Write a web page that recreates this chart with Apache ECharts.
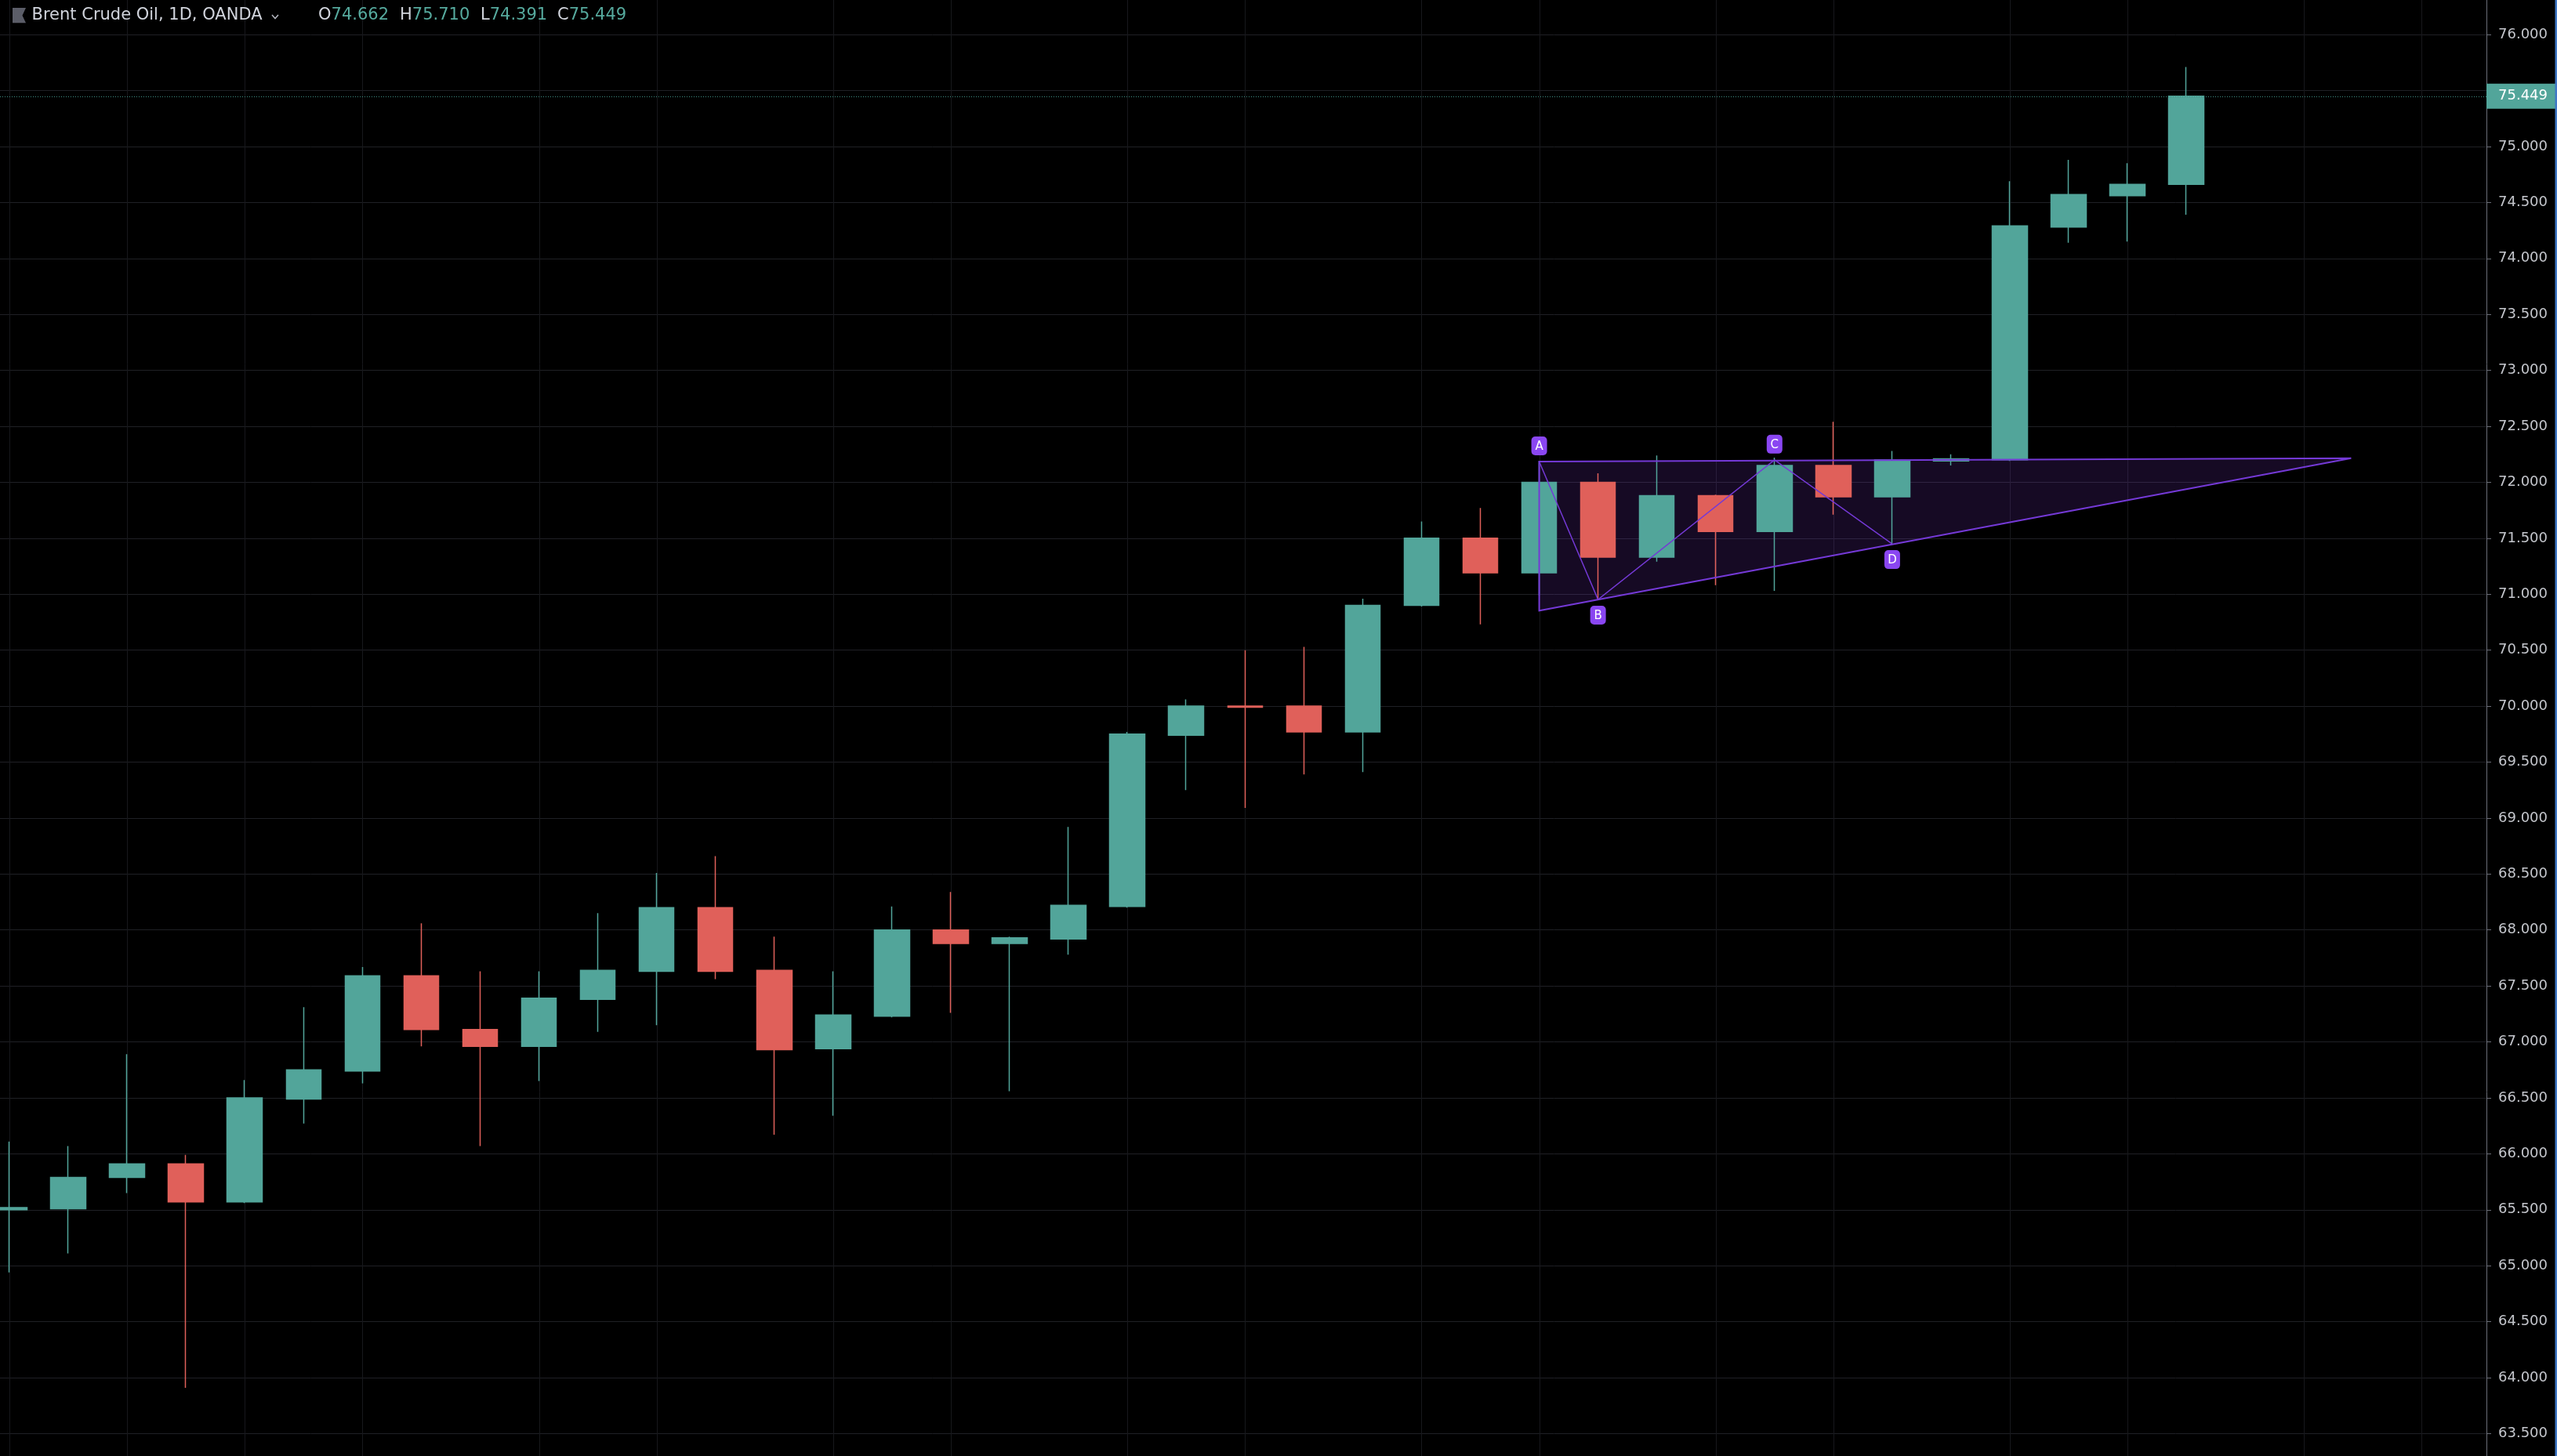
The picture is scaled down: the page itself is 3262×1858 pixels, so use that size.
<!DOCTYPE html>
<html>
<head>
<meta charset="utf-8">
<style>
  html, body { margin: 0; padding: 0; background: #000; overflow: hidden; }
  #chart { width: 3262px; height: 1858px; }
</style>
<script src="https://cdn.jsdelivr.net/npm/echarts@6/dist/echarts.min.js"></script>
</head>
<body>
<div id="chart"></div>
<script>
// ---------- data ----------
const candleIdx = [1,2,3,4,5,6,7,8,9,10,11,12,13,14,15,16,17,18,19,20,21,22,23,24,25,26,27,28,29,30,31,32,33,34,35,36,37,38];
const opens  = [65.50,65.51,65.79,65.91,65.57,66.49,66.74,67.59,67.11,66.96,67.38,67.63,68.20,67.64,66.94,67.23,68.00,67.88,67.92,68.21,69.74,70.00,70.00,69.77,70.90,71.50,71.19,72.00,71.33,71.88,71.56,72.15,71.87,72.19,72.20,74.28,74.56,74.662];
const closes = [65.52,65.79,65.91,65.57,66.50,66.75,67.59,67.11,66.96,67.39,67.64,68.20,67.63,66.93,67.24,68.00,67.88,67.93,68.22,69.75,70.00,69.99,69.77,70.90,71.50,71.19,72.00,71.33,71.88,71.56,72.15,71.87,72.20,72.21,74.29,74.57,74.662,75.449];
const lows   = [64.94,65.11,65.65,63.91,65.56,66.27,66.63,66.96,66.07,66.65,67.09,67.15,67.56,66.17,66.34,67.22,67.26,66.56,67.78,68.20,69.25,69.09,69.39,69.41,70.89,70.73,70.99,70.95,71.29,71.08,71.03,71.71,71.45,72.15,72.19,74.14,74.15,74.391];
const highs  = [66.11,66.07,66.89,65.99,66.66,67.31,67.67,68.06,67.63,67.63,68.15,68.51,68.66,67.94,67.63,68.21,68.34,67.94,68.92,69.77,70.06,70.50,70.53,70.96,71.65,71.77,72.19,72.08,72.24,71.89,72.22,72.54,72.28,72.25,74.69,74.88,74.85,75.710];

// candles that carry a vertical grid line (time-scale marks)
const gridCandles = [1,3,5,7,10,12,15,17,20,22,25,27,30,32,35,37,40,42];

// triangle drawing (x in candle numbers, y in price)
const triX = [27, 40.8, 27];
const triY = [72.185, 72.215, 70.853];
const zigX = [27, 28, 31, 33];
const zigY = [72.185, 70.953, 72.200, 71.449];
const zigLabels = ['A', 'B', 'C', 'D'];
const zigSide = [-1, 1, -1, 1];

// visible price window (bottom / top edge of the picture) and tick step
const yMin = 63.3003, yMax = 76.3088, yTickStep = 0.5;
const xMin = 0.8401, xMax = 43.0997;

const symbolTitle = 'Brent Crude Oil, 1D, OANDA';

// ---------- chart ----------
const UP = '#52a59a', DOWN = '#e0605a';
const chart = echarts.init(document.getElementById('chart'), null, { renderer: 'canvas' });
const last = candleIdx.length - 1;
const candleData = candleIdx.map((x, i) => [x, opens[i], closes[i], lows[i], highs[i]]);

const ohlcParts = [
  { l: 'O', v: opens[last], x: 406 },
  { l: 'H', v: highs[last], x: 510 },
  { l: 'L', v: lows[last], x: 613 },
  { l: 'C', v: closes[last], x: 711 }
];

const graphics = [
  { type: 'polygon', shape: { points: [[16,10],[33,10],[28.5,19.7],[33,29.3],[16,29.3]] }, style: { fill: '#5b5d68' }, z: 100 },
  { type: 'text', x: 40.5, y: 20, style: { text: symbolTitle, font: '21px "DejaVu Sans"', fill: '#d1d4dc', verticalAlign: 'middle', align: 'left' }, z: 100 },
  { type: 'polyline', shape: { points: [[347,19],[351,23.5],[355,19]] }, style: { stroke: '#b2b5be', lineWidth: 1.5, fill: null }, z: 100 },
  { type: 'rect', shape: { x: 3259.5, y: 0, width: 2.5, height: 1858 }, style: { fill: '#3f78c6' }, z: 100 }
];
ohlcParts.forEach(p => {
  graphics.push({
    type: 'text', x: p.x, y: 20, z: 100,
    style: {
      text: '{l|' + p.l + '}{v|' + p.v.toFixed(3) + '}',
      verticalAlign: 'middle', align: 'left',
      font: '21px "DejaVu Sans"', fill: '#d1d4dc',
      rich: {
        l: { font: '21px "DejaVu Sans"', fill: '#d1d4dc' },
        v: { font: '21px "DejaVu Sans"', fill: '#56aa9e' }
      }
    }
  });
});

const isStep = v => Math.abs(v / yTickStep - Math.round(v / yTickStep)) < 1e-6;

const option = {
  backgroundColor: '#000000',
  animation: false,
  grid: { left: 0, right: 90, top: 0, bottom: 0, containLabel: false },
  xAxis: {
    type: 'value', min: xMin, max: xMax,
    axisLine: { show: false }, axisTick: { show: false }, axisLabel: { show: false }, splitLine: { show: false }
  },
  yAxis: {
    type: 'value', position: 'right', min: yMin, max: yMax,
    splitNumber: 26, minInterval: yTickStep, maxInterval: yTickStep,
    axisLine: { show: true, lineStyle: { color: '#6b6e78', width: 1 } },
    axisTick: { show: true, length: 6, inside: false, lineStyle: { color: '#6b6e78', width: 1 } },
    axisLabel: { show: true, margin: 15, color: '#c4c6cc', fontFamily: 'DejaVu Sans', fontSize: 18, align: 'left',
      showMinLabel: false, showMaxLabel: false,
      formatter: v => isStep(v) ? v.toFixed(3) : '' },
    splitLine: { show: true, showMinLine: false, showMaxLine: false, lineStyle: { color: '#1f2025', width: 1 } }
  },
  graphic: graphics,
  series: [
    {
      type: 'custom',
      z: 1,
      silent: true,
      data: gridCandles.map(x => [x, 70]),
      encode: { x: 0, y: 1 },
      renderItem: function (params, api) {
        const p = api.coord([api.value(0), 70]);
        const cs = params.coordSys;
        return { type: 'line', shape: { x1: Math.round(p[0]) + 0.5, y1: cs.y, x2: Math.round(p[0]) + 0.5, y2: cs.y + cs.height },
          style: { stroke: '#17181c', lineWidth: 1 } };
      }
    },
    {
      type: 'custom',
      z: 2,
      silent: true,
      data: [[triX[0], triY[0]]],
      encode: { x: 0, y: 1 },
      renderItem: function (params, api) {
        const tri = triX.map((x, i) => api.coord([x, triY[i]]));
        return { type: 'polygon', shape: { points: tri }, style: { fill: 'rgba(128,58,215,0.17)' } };
      }
    },
    {
      type: 'candlestick',
      z: 3,
      barWidth: 45,
      clip: false,
      data: candleData,
      encode: { x: 0, y: [1, 2, 3, 4] },
      itemStyle: { color: UP, color0: DOWN, borderColor: UP, borderColor0: DOWN, borderWidth: 1.5 },
      markLine: {
        silent: true,
        symbol: ['none', 'none'],
        precision: 3,
        lineStyle: { color: '#3f8f84', type: [1, 2], width: 1 },
        label: {
          show: true, position: 'end', distance: 0,
          formatter: p => Number(p.value).toFixed(3),
          backgroundColor: UP, color: '#ffffff', fontFamily: 'DejaVu Sans', fontSize: 18, lineHeight: 20,
          padding: [6, 10, 6, 15]
        },
        data: [{ yAxis: closes[last] }]
      }
    },
    {
      type: 'custom',
      z: 5,
      silent: true,
      data: [[triX[0], triY[0]]],
      encode: { x: 0, y: 1 },
      renderItem: function (params, api) {
        const tri = triX.map((x, i) => api.coord([x, triY[i]]));
        const zz = zigX.map((x, i) => api.coord([x, zigY[i]]));
        const children = [
          { type: 'polygon', shape: { points: tri }, style: { fill: null, stroke: '#7439d6', lineWidth: 2 } },
          { type: 'polyline', shape: { points: zz }, style: { stroke: '#7439d6', lineWidth: 1.5, fill: null } }
        ];
        zz.forEach((p, i) => {
          const cy = p[1] + zigSide[i] * 20;
          children.push({ type: 'rect', shape: { x: p[0] - 10, y: cy - 12, width: 20, height: 24, r: 5 }, style: { fill: '#8a46f2' } });
          children.push({ type: 'text', x: p[0], y: cy + 1, style: { text: zigLabels[i], fill: '#ffffff', font: '15px "DejaVu Sans"', align: 'center', verticalAlign: 'middle' } });
        });
        return { type: 'group', children: children };
      }
    }
  ]
};
chart.setOption(option);
</script>
</body>
</html>
